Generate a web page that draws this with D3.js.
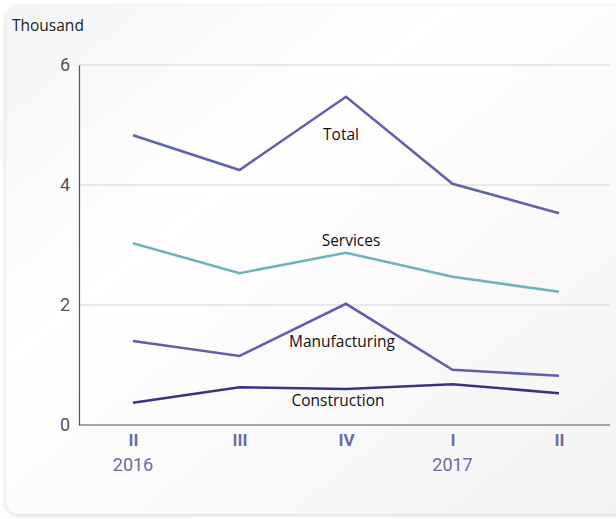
<!DOCTYPE html>
<html>
<head>
<meta charset="utf-8">
<script src="https://cdn.jsdelivr.net/npm/d3@7"></script>
<style>
  body { margin: 0; background: #ffffff; }
  svg { display: block; font-family: "Open Sans", "DejaVu Sans", sans-serif; }
</style>
</head>
<body>
<div id="chart"></div>
<script>
// quarters along the x axis
var quarters = ["II", "III", "IV", "I", "II"];
var years = ["2016", "", "", "2017", ""];

// series values, thousand
var total = [4.83, 4.25, 5.47, 4.02, 3.53];
var services = [3.03, 2.53, 2.87, 2.47, 2.22];
var manufacturing = [1.40, 1.15, 2.02, 0.92, 0.82];
var construction = [0.37, 0.63, 0.60, 0.68, 0.53];

var yTicks = [0, 2, 4, 6];

var series = [
  {name: "Total", values: total, color: "#6163a8", labelAt: 2, dx: -5, dy: 43},
  {name: "Services", values: services, color: "#6fb4ba", labelAt: 2, dx: 5, dy: -7},
  {name: "Manufacturing", values: manufacturing, color: "#5f5fab", labelAt: 2, dx: -4, dy: 43},
  {name: "Construction", values: construction, color: "#3a347f", labelAt: 2, dx: -8, dy: 17}
];

var W = 616, H = 519;
var margin = {top: 65, right: 6, bottom: 94, left: 79};
var width = W - margin.left - margin.right,
    height = H - margin.top - margin.bottom;

var svg = d3.select("#chart").append("svg")
    .attr("width", W)
    .attr("height", H);

var defs = svg.append("defs");
var grad = defs.append("linearGradient")
    .attr("id", "bg").attr("x1", 0).attr("y1", 0).attr("x2", 1).attr("y2", 1);
grad.append("stop").attr("offset", "0%").attr("stop-color", "#f4f5f5");
grad.append("stop").attr("offset", "35%").attr("stop-color", "#ffffff");
grad.append("stop").attr("offset", "100%").attr("stop-color", "#f3f3f3");
var blur = defs.append("filter").attr("id", "shadow")
    .attr("x", "-5%").attr("y", "-5%").attr("width", "110%").attr("height", "110%");
blur.append("feDropShadow").attr("dx", 0).attr("dy", 1).attr("stdDeviation", 2.5)
    .attr("flood-color", "#000").attr("flood-opacity", 0.18);

// panel behind the chart
svg.append("rect")
    .attr("x", 6).attr("y", 6)
    .attr("width", W + 20).attr("height", 508)
    .attr("rx", 14)
    .attr("fill", "url(#bg)")
    .attr("filter", "url(#shadow)");

svg.append("text")
    .attr("x", 12).attr("y", 31)
    .attr("font-size", 15.5)
    .attr("fill", "#222")
    .text("Thousand");

var g = svg.append("g")
    .attr("transform", `translate(${margin.left},${margin.top})`);

var x = d3.scalePoint()
    .domain(d3.range(quarters.length))
    .range([54, 480]);

var y = d3.scaleLinear()
    .domain([0, 6])
    .range([height, 0]);

// gridlines
g.append("g")
  .selectAll("line")
  .data(yTicks.filter(d => d > 0))
  .join("line")
    .attr("x1", 0).attr("x2", width)
    .attr("y1", d => y(d)).attr("y2", d => y(d))
    .attr("stroke", "#d6d6d6")
    .attr("stroke-width", 1);

// y axis
var yAxis = g.append("g")
    .call(d3.axisLeft(y).tickValues(yTicks).tickSize(0).tickPadding(9).tickFormat(d3.format("d")));
yAxis.select(".domain").attr("stroke", "#555").attr("stroke-width", 1.2);
yAxis.selectAll("text")
    .attr("font-size", 18)
    .attr("fill", "#555")
    .attr("font-family", "Roboto, sans-serif");

// x axis
var xAxis = g.append("g")
    .attr("transform", `translate(0,${height})`)
    .call(d3.axisBottom(x).tickSize(0).tickPadding(9).tickFormat(i => quarters[i]));
xAxis.select(".domain")
    .attr("d", `M0,0H${width}`)
    .attr("stroke", "#555").attr("stroke-width", 1.2);
xAxis.selectAll("text")
    .attr("font-size", 17)
    .attr("font-weight", "bold")
    .attr("font-family", "Roboto, sans-serif")
    .attr("fill", "#6a6aac");

g.append("g")
  .selectAll("text")
  .data(years.map((t, i) => ({t: t, i: i})).filter(d => d.t))
  .join("text")
    .attr("x", d => x(d.i))
    .attr("y", height + 46)
    .attr("text-anchor", "middle")
    .attr("font-size", 18)
    .attr("font-family", "Roboto, sans-serif")
    .attr("fill", "#6a6aac")
    .text(d => d.t);

var line = d3.line()
    .x((d, i) => x(i))
    .y(d => y(d));

g.selectAll(".series")
  .data(series)
  .join("path")
    .attr("class", "series")
    .attr("d", d => line(d.values))
    .attr("fill", "none")
    .attr("stroke", d => d.color)
    .attr("stroke-width", 2.6);

g.selectAll(".label")
  .data(series)
  .join("text")
    .attr("class", "label")
    .attr("x", d => x(d.labelAt) + d.dx)
    .attr("y", d => y(d.values[d.labelAt]) + d.dy)
    .attr("text-anchor", "middle")
    .attr("font-size", 15.5)
    .attr("fill", "#111")
    .text(d => d.name);
</script>
</body>
</html>
